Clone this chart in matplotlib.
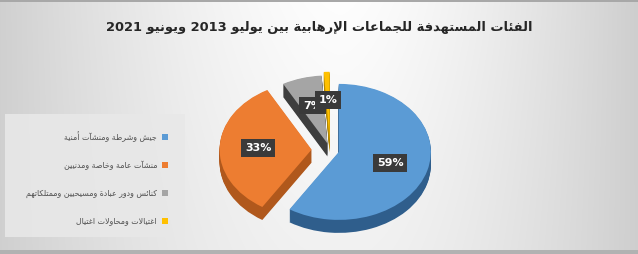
import matplotlib.pyplot as plt
import numpy as np

# data
title = 'الفئات المستهدفة للجماعات الإرهابية بين يوليو 2013 ويونيو 2021'
categories = [
    'جيش وشرطة ومنشآت أمنية',
    'منشآت عامة وخاصة ومدنيين',
    'كنائس ودور عبادة ومسيحيين وممتلكاتهم',
    'اغتيالات ومحاولات اغتيال',
]
values = [59, 33, 7, 1]
explode = [0.1, 0.2, 0.1, 0.15]
colors = ['#5B9BD5', '#ED7D31', '#A5A5A5', '#FFC000']
side_colors = ['#2F5E8C', '#B0581C', '#3E3E3E', '#B38600']

# --- minimal arabic shaping (matplotlib has no shaping / bidi) ---
_four = {'ئ': 0xFE89, 'ب': 0xFE8F, 'ت': 0xFE95, 'ث': 0xFE99, 'ج': 0xFE9D,
         'ح': 0xFEA1, 'خ': 0xFEA5, 'س': 0xFEB1, 'ش': 0xFEB5, 'ص': 0xFEB9,
         'ض': 0xFEBD, 'ط': 0xFEC1, 'ظ': 0xFEC5, 'ع': 0xFEC9, 'غ': 0xFECD,
         'ف': 0xFED1, 'ق': 0xFED5, 'ك': 0xFED9, 'ل': 0xFEDD, 'م': 0xFEE1,
         'ن': 0xFEE5, 'ه': 0xFEE9, 'ي': 0xFEF1}
_two = {'آ': 0xFE81, 'أ': 0xFE83, 'ؤ': 0xFE85, 'إ': 0xFE87, 'ا': 0xFE8D,
        'ة': 0xFE93, 'د': 0xFEA9, 'ذ': 0xFEAB, 'ر': 0xFEAD, 'ز': 0xFEAF,
        'و': 0xFEED, 'ى': 0xFEEF}
_lamalef = {'آ': 0xFEF5, 'أ': 0xFEF7, 'إ': 0xFEF9, 'ا': 0xFEFB}


def _forms(ch):
    if ch in _four:
        return [chr(_four[ch] + i) for i in range(4)]
    if ch in _two:
        return [chr(_two[ch] + i) for i in range(2)]
    if ch == 'ء':
        return ['\uFE80']
    return None


def shape_word(word):
    units = []
    i = 0
    while i < len(word):
        ch = word[i]
        if ch == 'ل' and i + 1 < len(word) and word[i + 1] in _lamalef:
            b = _lamalef[word[i + 1]]
            units.append([chr(b), chr(b + 1)])
            i += 2
            continue
        units.append(_forms(ch) or [ch])
        i += 1
    out = []
    for k, f in enumerate(units):
        if len(f) == 1:
            out.append(f[0])
            continue
        prev = k > 0 and len(units[k - 1]) == 4
        nxt = k < len(units) - 1 and len(f) == 4 and len(units[k + 1]) >= 2
        if prev and nxt:
            out.append(f[3])
        elif prev:
            out.append(f[1])
        elif nxt:
            out.append(f[2])
        else:
            out.append(f[0])
    return ''.join(out)


def ar(text):
    words = []
    for w in text.split(' '):
        if any(_forms(c) for c in w):
            words.append(shape_word(w)[::-1])
        else:
            words.append(w)
    return ' '.join(reversed(words))


W, H = 638, 254
fig = plt.figure(figsize=(W / 100, H / 100), dpi=100)

# background gradient (light in the middle, grey at the sides)
bg = fig.add_axes([0, 0, 1, 1])
yy, xx = np.mgrid[0:H, 0:W]
dx = np.where(xx < 340, (340 - xx) / 340, (xx - 340) / 290)
shade = 0.995 - 0.18 * dx ** 1.5 - 0.05 * (yy / H) * (1 - dx)
shade = np.clip(shade, 0, 1)
shade[:2, :] = 0.66
shade[-4:, :] = 0.70
bg.imshow(np.dstack([shade] * 3), extent=(0, W, H, 0), aspect='auto')
bg.set_xlim(0, W)
bg.set_ylim(H, 0)
bg.axis('off')

bg.text(319, 27, ar(title), ha='center', va='center', fontsize=9.4,
        fontweight='bold', color='#262626')

# legend box
bg.add_patch(plt.Rectangle((5, 114), 180, 123, facecolor='#e8e8e8',
                           edgecolor='none', alpha=0.9))
for i, (lab, c) in enumerate(zip(categories, colors)):
    y = 137 + i * 28
    bg.add_patch(plt.Rectangle((162, y - 3), 6, 6, facecolor=c, edgecolor='none'))
    bg.text(157, y, ar(lab), ha='right', va='center', fontsize=5.7, color='#505050')

# pie
cx, cy = 330, 150
rx, ry = 92, 68
ax_l, ax_r = cx - 110, cx + 110
ax_t, ax_b = cy - 90, cy + 90
ax = fig.add_axes([ax_l / W, 1 - ax_b / H, (ax_r - ax_l) / W, (ax_b - ax_t) / H])

depth = 13 / ry
for dd in np.linspace(depth, 0.01, 14):
    ax.pie(values, explode=explode, colors=side_colors, startangle=90,
           counterclock=False, center=(0, -dd), radius=1,
           wedgeprops=dict(linewidth=0))

wedges, texts, autotexts = ax.pie(
    values, explode=explode, colors=colors, startangle=90,
    counterclock=False, center=(0, 0), radius=1,
    wedgeprops=dict(linewidth=0), autopct='%1.0f%%', pctdistance=0.58)

for k, t in enumerate(autotexts):
    t.set_color('white')
    t.set_fontweight('bold')
    t.set_fontsize(8)
    t.set_zorder(10 + k)
    t.set_bbox(dict(boxstyle='square,pad=0.35', facecolor='#3a3a3a',
                    edgecolor='none'))

ax.set_aspect('auto')
ax.set_xlim(-110 / rx, 110 / rx)
ax.set_ylim(-90 / ry, 90 / ry)
ax.axis('off')

fig.savefig('out.png', dpi=100)
